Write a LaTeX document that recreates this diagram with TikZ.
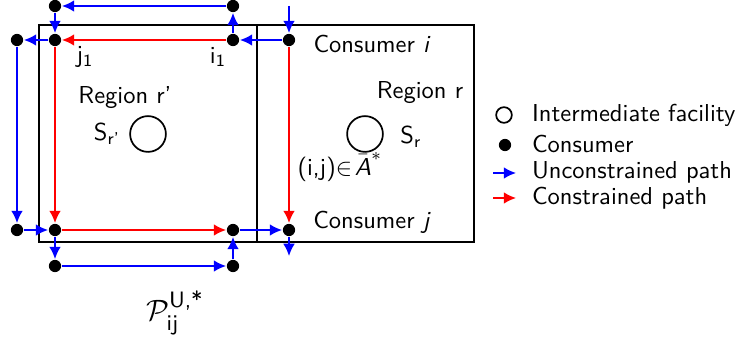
\documentclass[tikz,border=0pt]{standalone}
\usepackage{amsmath}
\usetikzlibrary{arrows.meta}
\begin{document}
\begin{tikzpicture}[x=0.408pt,y=-0.408pt,line width=.7pt,font=\sffamily,
  dot/.style={circle,fill,inner sep=0pt,minimum size=5pt},
  fac/.style={circle,draw,inner sep=0pt,minimum size=14.6pt},
  free/.style={blue,-{Latex[length=5pt,width=4.8pt]}},
  tied/.style={red,-{Latex[length=5pt,width=4.8pt]}}]
\useasboundingbox (0,0) rectangle (735,343);
% regions
\draw (39,25) rectangle (257,242);
\draw (257,25) rectangle (474,242);
% consumers
\node[dot] (i) at (289,40) {};\node[dot] (j) at (289,230) {};
\node[dot] (i1) at (233,40) {};\node[dot] (j1) at (55,40) {};
\node[dot] (A) at (55,6) {};\node[dot] (B) at (233,6) {};
\node[dot] (L) at (17,40) {};\node[dot] (M) at (17,230) {};
\node[dot] (J2) at (55,230) {};\node[dot] (I2) at (233,230) {};
\node[dot] (J3) at (55,266) {};\node[dot] (I3) at (233,266) {};
\coordinate (in) at (289,6);\coordinate (out) at (289,256);
% facilities
\node[fac] (Sp) at (148,134) {};
\node[fac] (S) at (365,134) {};
% constrained path
\draw[tied] (i)--(j);
\draw[tied] (i1)--(j1);
\draw[tied] (j1)--(J2);
\draw[tied] (J2)--(I2);
% unconstrained path
\draw[free] (in)--(i);
\draw[free] (i)--(i1);
\draw[free] (i1)--(B);
\draw[free] (B)--(A);
\draw[free] (A)--(j1);
\draw[free] (j1)--(L);
\draw[free] (L)--(M);
\draw[free] (M)--(J2);
\draw[free] (J2)--(J3);
\draw[free] (J3)--(I3);
\draw[free] (I3)--(I2);
\draw[free] (I2)--(j);
\draw[free] (j)--(out);
% labels
\node (lj1) at (85,57) {j$_{\textsf{1}}$};
\node (li1) at (218,57) {i$_{\textsf{1}}$};
\node (lrp) at (125,98) {Region r'};
\node (lSp) at (107,134) {S$_{\textsf{r'}}$};
\node (li) at (372,44) {Consumer \textit{i}};
\node (lr) at (420,93) {Region r};
\node (lS) at (411,137) {S$_{\textsf{r}}$};
\node (lA) at (340,167) {(i,j)$\in\!\bar{\textit{A}}^{*}$};
\node (lj) at (372,222) {Consumer \textit{j}};
\node[font=\sffamily\fontsize{13}{15}\selectfont] (lP) at (175,313) {$\mathcal{P}^{\textsf{U,*}}_{\textsf{ij}}$};
% legend
\node[circle,draw,inner sep=0pt,minimum size=6.4pt] (kfac) at (504,115) {};
\node[right] (tfac) at (523,115) {Intermediate facility};
\node[dot] (kdot) at (505,145) {};
\node[right] (tdot) at (523,144) {Consumer};
\coordinate (ka) at (493,173);\coordinate (kb) at (516,173);
\draw[free] (ka)--(kb);
\node[right] (tfree) at (523,172) {Unconstrained path};
\coordinate (kc) at (493,198);\coordinate (kd) at (516,198);
\draw[tied] (kc)--(kd);
\node[right] (ttied) at (523,198) {Constrained path};
\end{tikzpicture}
\end{document}
